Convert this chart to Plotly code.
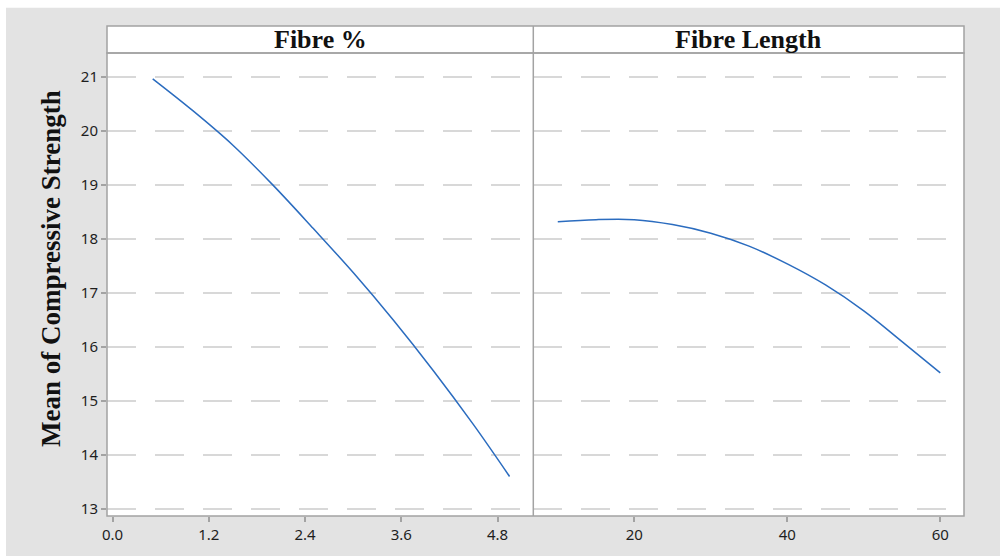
import plotly.graph_objects as go

# Fitted mean compressive strength versus each factor
fibre_pct = [0.5, 1.0, 1.5, 2.0, 2.5, 3.0, 3.5, 4.0, 4.5, 4.95]
strength_by_pct = [20.97, 20.38, 19.74, 19.00, 18.20, 17.38, 16.50, 15.56, 14.56, 13.60]

fibre_len = [10, 15, 20, 25, 30, 35, 40, 45, 50, 55, 60]
strength_by_len = [18.32, 18.36, 18.36, 18.27, 18.11, 17.87, 17.54, 17.15, 16.67, 16.10, 15.52]

panel_titles = ["Fibre %", "Fibre Length"]
y_title = "Mean of Compressive Strength"
y_ticks = [13, 14, 15, 16, 17, 18, 19, 20, 21]
pct_ticks = [0.0, 1.2, 2.4, 3.6, 4.8]
len_ticks = [20, 40, 60]

W, H = 1000, 556
ML, MR, MT, MB = 107, 36, 26, 33
plot_w = W - ML - MR
plot_h = H - MT - MB
split = (533.3 - ML) / plot_w          # boundary between the two panels
y_top = 1 - (53.3 - MT) / plot_h        # top of data area (below the strip)

LINE_BLUE = "#2b6cbf"
FRAME = "#a3a3a3"
GRID = "#d8d8d8"
BG = "#e3e3e3"
TICK_FONT = dict(family="Noto Sans, Open Sans, sans-serif", size=15, color="#1e1e1e")
TITLE_FONT = dict(family="Liberation Serif, Times New Roman, serif", size=26, color="#111111")

fig = go.Figure()
fig.add_trace(go.Scatter(x=fibre_pct, y=strength_by_pct, mode="lines",
                         line=dict(color=LINE_BLUE, width=1.5, shape="spline"),
                         xaxis="x", yaxis="y", showlegend=False))
fig.add_trace(go.Scatter(x=fibre_len, y=strength_by_len, mode="lines",
                         line=dict(color=LINE_BLUE, width=1.5, shape="spline"),
                         xaxis="x2", yaxis="y2", showlegend=False))

y_common = dict(range=[12.867, 21.451], tickvals=y_ticks, showgrid=True,
                gridcolor=GRID, gridwidth=1.5, griddash="29px,19px",
                zeroline=False, showline=False, domain=[0, y_top])

fig.update_layout(
    width=W, height=H,
    margin=dict(l=ML, r=MR, t=MT, b=MB),
    paper_bgcolor=BG, plot_bgcolor="white",
    xaxis=dict(domain=[0, split], range=[-0.07, 5.246], tickvals=pct_ticks,
               tickformat=".1f", ticks="outside", ticklen=5, tickcolor=FRAME,
               tickwidth=1.5, tickfont=TICK_FONT, showgrid=False,
               zeroline=False, showline=False, anchor="y"),
    xaxis2=dict(domain=[split, 1], range=[6.80, 63.1], tickvals=len_ticks,
                ticks="outside", ticklen=5, tickcolor=FRAME, tickwidth=1.5,
                tickfont=TICK_FONT, showgrid=False, zeroline=False,
                showline=False, anchor="y2"),
    yaxis=dict(**y_common, ticks="outside", ticklen=5, tickcolor=FRAME,
               tickwidth=1.5, tickfont=TICK_FONT, anchor="x"),
    yaxis2=dict(**y_common, showticklabels=False, ticks="", anchor="x2",
                matches="y"),
)

frame_line = dict(color=FRAME, width=1.5)
shapes = [
    # white page edges above and left of the grey panel
    dict(type="rect", xref="paper", yref="paper", x0=-0.2, x1=1.1,
         y0=1 + (MT - 7.5) / plot_h, y1=1.2, fillcolor="white", line_width=0,
         layer="below"),
    dict(type="rect", xref="paper", yref="paper", x0=-0.2, x1=(6 - ML) / plot_w,
         y0=-0.2, y1=1.2, fillcolor="white", line_width=0, layer="below"),
    # strip headers
    dict(type="rect", xref="paper", yref="paper", x0=0, x1=1, y0=y_top, y1=1,
         fillcolor="white", line=frame_line, layer="above"),
    # frame around both panels and the divider between them
    dict(type="rect", xref="paper", yref="paper", x0=0, x1=1, y0=0, y1=y_top,
         line=frame_line, layer="above"),
    dict(type="line", xref="paper", yref="paper", x0=split, x1=split, y0=0, y1=1,
         line=frame_line, layer="above"),
]
fig.update_layout(shapes=shapes)

strip_mid = (1 + y_top) / 2
fig.add_annotation(x=split / 2, y=strip_mid, xref="paper", yref="paper",
                   text="<b>%s</b>" % panel_titles[0], showarrow=False,
                   font=TITLE_FONT, xanchor="center", yanchor="middle")
fig.add_annotation(x=(split + 1) / 2, y=strip_mid, xref="paper", yref="paper",
                   text="<b>%s</b>" % panel_titles[1], showarrow=False,
                   font=TITLE_FONT, xanchor="center", yanchor="middle")
fig.add_annotation(x=(51 - ML) / plot_w, y=1 - (272.5 - MT) / plot_h,
                   xref="paper", yref="paper", text="<b>%s</b>" % y_title,
                   textangle=-90, showarrow=False,
                   font=dict(TITLE_FONT, size=27),
                   xanchor="center", yanchor="middle")

fig.write_html("out.html")
